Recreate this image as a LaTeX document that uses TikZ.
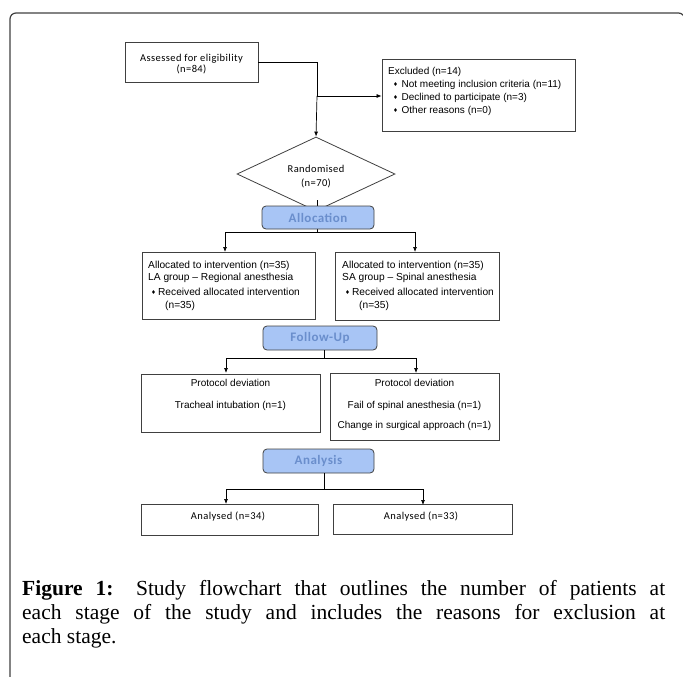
\documentclass[tikz,border=0pt]{standalone}
\usepackage{fontspec}
\setmainfont{Liberation Serif}
\newfontfamily\arialf{Liberation Sans}
\newfontfamily\calibf[LetterSpace=4]{Carlito}
\newfontfamily\symf{DejaVu Sans}
\usetikzlibrary{shapes.geometric,arrows.meta}
\definecolor{hdrfill}{RGB}{168,197,245}
\definecolor{hdrtext}{RGB}{106,142,204}
\definecolor{edge}{RGB}{64,64,64}
\newcommand{\dia}{{\symf\fontsize{5.5}{5.5}\selectfont\raisebox{1pt}{♦}}}

\begin{document}
\begin{tikzpicture}[x=1pt, y=-1pt]
\tikzstyle{box}=[draw=edge, line width=0.8pt, shape=rectangle, inner sep=0pt, fill=white];
\tikzstyle{hdr}=[draw=edge, line width=0.8pt, shape=rectangle, rounded corners=4pt, fill=hdrfill, text=hdrtext, inner sep=0pt, font=\calibf\bfseries\fontsize{13}{13}\selectfont];
\tikzstyle{txt}=[inner sep=0pt, font=\arialf\fontsize{10.2}{12.5}\selectfont];
\tikzstyle{ctxt}=[inner sep=0pt, align=center, font=\calibf\fontsize{10.5}{11}\selectfont];
\tikzstyle{arr}=[line width=0.7pt, -{Latex[length=5pt,width=4pt]}];
\useasboundingbox (0,0) rectangle (683,677);
% outer frame
\draw [edge, line width=1.2pt, rounded corners=6pt] (10,700) -- (10,13) -- (684.5,13) -- (684.5,700);

% enrolment
\node [box, minimum width=133, minimum height=40] (assess) at (191.5,62) {};
\node [ctxt] (assesst) at (191.5,64.5) {Assessed for eligibility\\(n=84)};
\node [box, minimum width=193, minimum height=72] (excl) at (478.5,95) {};
\node [txt, anchor=north west, align=left, font=\arialf\fontsize{10}{13}\selectfont] (exclt) at (388,67)
  {Excluded (n=14)\\
   \hspace{5pt}\dia\hspace{3.5pt}Not meeting inclusion criteria (n=11)\\
   \hspace{5pt}\dia\hspace{3.5pt}Declined to participate (n=3)\\
   \hspace{5pt}\dia\hspace{3.5pt}Other reasons (n=0)};
\node [box, shape=diamond, minimum width=158, minimum height=74] (rand) at (316,174) {};
\node [ctxt, font=\calibf\fontsize{10.5}{14}\selectfont] (randt) at (316,177) {Randomised\\(n=70)};
\coordinate (split0) at (317,96);
\draw [line width=0.7pt] (assess.east) -- (317,62) -- (split0);
\draw [arr] (split0) -- (rand.north);
\draw [arr] (split0) -- (excl.west |- split0);

% allocation
\coordinate (split1) at (317,232);
\draw [line width=0.7pt] (317,200) -- (split1);
\node [hdr, minimum width=112, minimum height=23] (alloc) at (318,217.5) {Allocation};
\node [box, minimum width=173, minimum height=67] (la) at (228.5,285.5) {};
\node [box, minimum width=164, minimum height=68] (sa) at (417,286) {};
\node [txt, anchor=north west, align=left] (lat) at (148,260.5)
  {Allocated to intervention (n=35)\\
   LA group – Regional anesthesia\\[2.5pt]
   \hspace{3pt}\dia\hspace{2pt}Received allocated intervention\\
   \hspace{17pt}(n=35)};
\node [txt, anchor=north west, align=left] (sat) at (342,260.5)
  {Allocated to intervention (n=35)\\
   SA group – Spinal anesthesia\\[2.5pt]
   \hspace{3pt}\dia\hspace{2pt}Received allocated intervention\\
   \hspace{17pt}(n=35)};
\draw [arr] (split1) -| (225,252);
\draw [arr] (split1) -| (415,252);

% follow-up
\node [hdr, minimum width=114, minimum height=24] (fu) at (320,338) {Follow-Up};
\coordinate (split2) at (324,358);
\node [box, minimum width=179, minimum height=58] (pd1) at (230.5,403) {};
\node [box, minimum width=169, minimum height=67] (pd2) at (414.5,406.5) {};
\node [txt, anchor=north, align=center, font=\arialf\fontsize{10}{21.5}\selectfont] (pd1t) at (230.5,379.5)
  {Protocol deviation\\Tracheal intubation (n=1)};
\node [txt, anchor=north, align=center, font=\arialf\fontsize{10}{21.5}\selectfont] (pd2t) at (414.5,379.5)
  {Protocol deviation\\Fail of spinal anesthesia (n=1)\\[-1.5pt]Change in surgical approach (n=1)};
\draw [line width=0.7pt] (324,350) -- (split2);
\draw [arr] (split2) -| (226,373);
\draw [arr] (split2) -| (416,373);

% analysis
\node [hdr, minimum width=111, minimum height=24] (an) at (318.5,461) {Analysis};
\coordinate (split3) at (324,489);
\node [box, minimum width=177, minimum height=31] (res1) at (229.5,519.5) {};
\node [box, minimum width=179, minimum height=30] (res2) at (422.5,519.5) {};
\node [ctxt] (res1t) at (228,517) {Analysed (n=34)};
\node [ctxt] (res2t) at (421,517) {Analysed (n=33)};
\draw [line width=0.7pt] (324,473) -- (split3);
\draw [arr] (split3) -| (226,504);
\draw [arr] (split3) -| (423,505);

% caption
\node [anchor=north west, inner sep=0pt, text width=643, align=justify,
  font=\fontsize{21.5}{24}\selectfont] (cap) at (22,580)
  {\textbf{Figure 1:} Study flowchart that outlines the number of patients at\linebreak
   each stage of the study and includes the reasons for exclusion at\linebreak
   each stage.};
\end{tikzpicture}
\end{document}
